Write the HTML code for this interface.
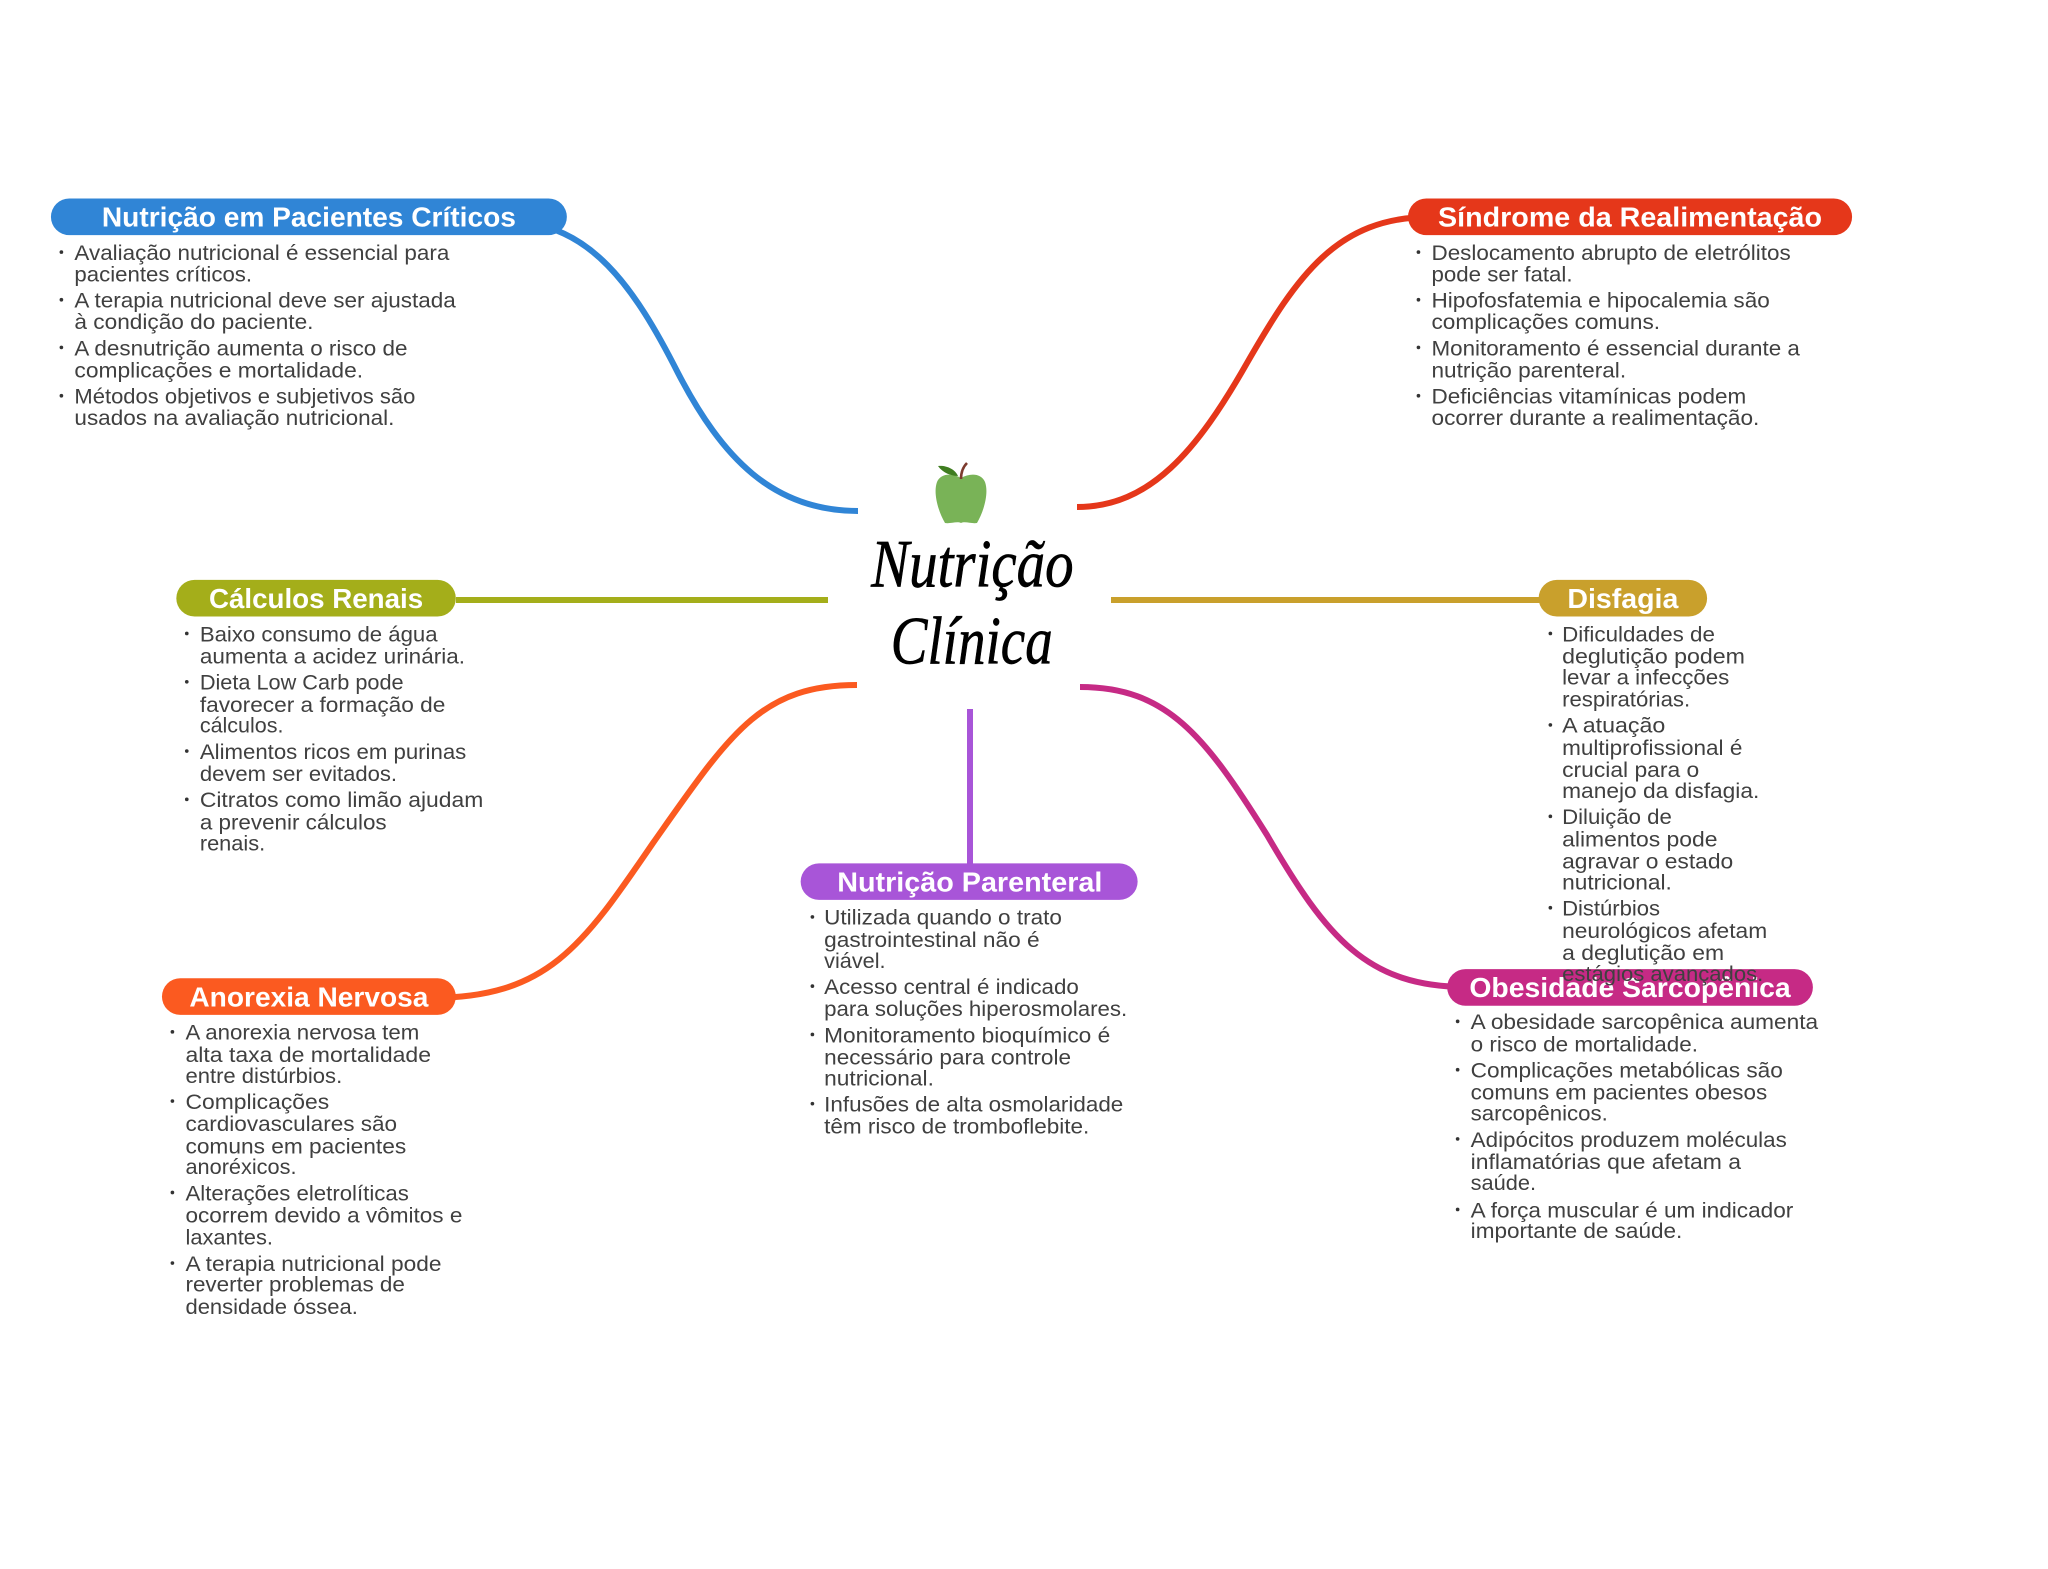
<!DOCTYPE html>
<html><head><meta charset="utf-8"><style>
html,body{margin:0;padding:0;background:#fff;width:2048px;height:1569px;overflow:hidden}
svg{display:block}
.t{font:16px "Liberation Sans",sans-serif;fill:#404040}
.h{font:bold 21px "Liberation Sans",sans-serif;fill:#fff}
.s{font:italic 52px "Liberation Serif",serif;fill:#000;stroke:#000;stroke-width:.5}
</style></head><body>
<svg width="2048" height="1569" viewBox="0 0 2048 1569" xmlns="http://www.w3.org/2000/svg">
<g fill="none" stroke-width="6">
<path d="M510,222C590,222 635,288 678,373C722,458 773,511 858,511" stroke="#3085d6"/>
<path d="M1430,217C1337,217 1297,276 1247,363C1197,451 1150,507 1077,507" stroke="#e5371a"/>
<path d="M857,685C760,685 730,734 653,843C582,947 547,998 430,998" stroke="#fb5a20"/>
<path d="M1080,687C1167,687 1205,736 1267,835C1327,938 1367,987 1467,987" stroke="#c62a85"/>
<path d="M456,600H828" stroke="#a4ae1a"/>
<path d="M1111,600H1540" stroke="#c9a02c"/>
<path d="M970,709V864" stroke="#a855d8"/>
</g>
<g transform="scale(1.30612,1.30612)">
<g>
<rect x="39" y="152" width="395" height="28" rx="14" fill="#3085d6"/>
<rect x="1078" y="152" width="340" height="28" rx="14" fill="#e5371a"/>
<rect x="135" y="444" width="214" height="28" rx="14" fill="#a4ae1a"/>
<rect x="1178" y="444" width="129" height="28" rx="14" fill="#c9a02c"/>
<rect x="613" y="661" width="258" height="28" rx="14" fill="#a855d8"/>
<rect x="124" y="749" width="225" height="28" rx="14" fill="#fb5a20"/>
<rect x="1108" y="742" width="280" height="28" rx="14" fill="#c62a85"/>
</g>
<g class="h">
<text class="h" x="78" y="173.500" textLength="317" lengthAdjust="spacingAndGlyphs">Nutrição em Pacientes Críticos</text>
<text class="h" x="1101" y="173.500" textLength="294" lengthAdjust="spacingAndGlyphs">Síndrome da Realimentação</text>
<text class="h" x="160" y="465.500" textLength="164" lengthAdjust="spacingAndGlyphs">Cálculos Renais</text>
<text class="h" x="1200" y="465.500" textLength="85" lengthAdjust="spacingAndGlyphs">Disfagia</text>
<text class="h" x="641" y="682.500" textLength="203" lengthAdjust="spacingAndGlyphs">Nutrição Parenteral</text>
<text class="h" x="145" y="770.500" textLength="183" lengthAdjust="spacingAndGlyphs">Anorexia Nervosa</text>
<text class="h" x="1125" y="763.500" textLength="246" lengthAdjust="spacingAndGlyphs">Obesidade Sarcopênica</text>
</g>
<text class="s" x="667" y="449" textLength="155" lengthAdjust="spacingAndGlyphs">Nutrição</text>
<text class="s" x="682" y="508" textLength="124" lengthAdjust="spacingAndGlyphs">Clínica</text>
<g class="t" transform="translate(0,1)">
<text class="t" x="57" y="198" textLength="287" lengthAdjust="spacingAndGlyphs">Avaliação nutricional é essencial para</text>
<text class="t" x="57" y="214.500" textLength="136" lengthAdjust="spacingAndGlyphs">pacientes críticos.</text>
<text class="t" x="57" y="234.500" textLength="292" lengthAdjust="spacingAndGlyphs">A terapia nutricional deve ser ajustada</text>
<text class="t" x="57" y="251" textLength="183" lengthAdjust="spacingAndGlyphs">à condição do paciente.</text>
<text class="t" x="57" y="271" textLength="255" lengthAdjust="spacingAndGlyphs">A desnutrição aumenta o risco de</text>
<text class="t" x="57" y="288" textLength="221" lengthAdjust="spacingAndGlyphs">complicações e mortalidade.</text>
<text class="t" x="57" y="308" textLength="261" lengthAdjust="spacingAndGlyphs">Métodos objetivos e subjetivos são</text>
<text class="t" x="57" y="324.500" textLength="245" lengthAdjust="spacingAndGlyphs">usados na avaliação nutricional.</text>

<text class="t" x="1096" y="198" textLength="275" lengthAdjust="spacingAndGlyphs">Deslocamento abrupto de eletrólitos</text>
<text class="t" x="1096" y="214.500" textLength="108" lengthAdjust="spacingAndGlyphs">pode ser fatal.</text>
<text class="t" x="1096" y="234.500" textLength="259" lengthAdjust="spacingAndGlyphs">Hipofosfatemia e hipocalemia são</text>
<text class="t" x="1096" y="251" textLength="175" lengthAdjust="spacingAndGlyphs">complicações comuns.</text>
<text class="t" x="1096" y="271" textLength="282" lengthAdjust="spacingAndGlyphs">Monitoramento é essencial durante a</text>
<text class="t" x="1096" y="288" textLength="149" lengthAdjust="spacingAndGlyphs">nutrição parenteral.</text>
<text class="t" x="1096" y="308" textLength="241" lengthAdjust="spacingAndGlyphs">Deficiências vitamínicas podem</text>
<text class="t" x="1096" y="324.500" textLength="251" lengthAdjust="spacingAndGlyphs">ocorrer durante a realimentação.</text>

<text class="t" x="153" y="490" textLength="182" lengthAdjust="spacingAndGlyphs">Baixo consumo de água</text>
<text class="t" x="153" y="507" textLength="203" lengthAdjust="spacingAndGlyphs">aumenta a acidez urinária.</text>
<text class="t" x="153" y="527" textLength="156" lengthAdjust="spacingAndGlyphs">Dieta Low Carb pode</text>
<text class="t" x="153" y="544" textLength="188" lengthAdjust="spacingAndGlyphs">favorecer a formação de</text>
<text class="t" x="153" y="560" textLength="64" lengthAdjust="spacingAndGlyphs">cálculos.</text>
<text class="t" x="153" y="580" textLength="204" lengthAdjust="spacingAndGlyphs">Alimentos ricos em purinas</text>
<text class="t" x="153" y="597" textLength="151" lengthAdjust="spacingAndGlyphs">devem ser evitados.</text>
<text class="t" x="153" y="617" textLength="217" lengthAdjust="spacingAndGlyphs">Citratos como limão ajudam</text>
<text class="t" x="153" y="634" textLength="143" lengthAdjust="spacingAndGlyphs">a prevenir cálculos</text>
<text class="t" x="153" y="650" textLength="50" lengthAdjust="spacingAndGlyphs">renais.</text>

<text class="t" x="631" y="707" textLength="182" lengthAdjust="spacingAndGlyphs">Utilizada quando o trato</text>
<text class="t" x="631" y="724" textLength="165" lengthAdjust="spacingAndGlyphs">gastrointestinal não é</text>
<text class="t" x="631" y="740" textLength="47" lengthAdjust="spacingAndGlyphs">viável.</text>
<text class="t" x="631" y="760" textLength="195" lengthAdjust="spacingAndGlyphs">Acesso central é indicado</text>
<text class="t" x="631" y="777" textLength="232" lengthAdjust="spacingAndGlyphs">para soluções hiperosmolares.</text>
<text class="t" x="631" y="797" textLength="219" lengthAdjust="spacingAndGlyphs">Monitoramento bioquímico é</text>
<text class="t" x="631" y="814" textLength="189" lengthAdjust="spacingAndGlyphs">necessário para controle</text>
<text class="t" x="631" y="830" textLength="84" lengthAdjust="spacingAndGlyphs">nutricional.</text>
<text class="t" x="631" y="850" textLength="229" lengthAdjust="spacingAndGlyphs">Infusões de alta osmolaridade</text>
<text class="t" x="631" y="867" textLength="203" lengthAdjust="spacingAndGlyphs">têm risco de tromboflebite.</text>

<text class="t" x="142" y="795" textLength="179" lengthAdjust="spacingAndGlyphs">A anorexia nervosa tem</text>
<text class="t" x="142" y="812" textLength="188" lengthAdjust="spacingAndGlyphs">alta taxa de mortalidade</text>
<text class="t" x="142" y="828" textLength="120" lengthAdjust="spacingAndGlyphs">entre distúrbios.</text>
<text class="t" x="142" y="848" textLength="110" lengthAdjust="spacingAndGlyphs">Complicações</text>
<text class="t" x="142" y="865" textLength="162" lengthAdjust="spacingAndGlyphs">cardiovasculares são</text>
<text class="t" x="142" y="882" textLength="169" lengthAdjust="spacingAndGlyphs">comuns em pacientes</text>
<text class="t" x="142" y="898" textLength="85" lengthAdjust="spacingAndGlyphs">anoréxicos.</text>
<text class="t" x="142" y="918" textLength="171" lengthAdjust="spacingAndGlyphs">Alterações eletrolíticas</text>
<text class="t" x="142" y="935" textLength="212" lengthAdjust="spacingAndGlyphs">ocorrem devido a vômitos e</text>
<text class="t" x="142" y="952" textLength="67" lengthAdjust="spacingAndGlyphs">laxantes.</text>
<text class="t" x="142" y="972" textLength="196" lengthAdjust="spacingAndGlyphs">A terapia nutricional pode</text>
<text class="t" x="142" y="988" textLength="168" lengthAdjust="spacingAndGlyphs">reverter problemas de</text>
<text class="t" x="142" y="1005" textLength="132" lengthAdjust="spacingAndGlyphs">densidade óssea.</text>

<text class="t" x="1126" y="787" textLength="266" lengthAdjust="spacingAndGlyphs">A obesidade sarcopênica aumenta</text>
<text class="t" x="1126" y="804" textLength="174" lengthAdjust="spacingAndGlyphs">o risco de mortalidade.</text>
<text class="t" x="1126" y="824" textLength="239" lengthAdjust="spacingAndGlyphs">Complicações metabólicas são</text>
<text class="t" x="1126" y="841" textLength="227" lengthAdjust="spacingAndGlyphs">comuns em pacientes obesos</text>
<text class="t" x="1126" y="857" textLength="105" lengthAdjust="spacingAndGlyphs">sarcopênicos.</text>
<text class="t" x="1126" y="877" textLength="242" lengthAdjust="spacingAndGlyphs">Adipócitos produzem moléculas</text>
<text class="t" x="1126" y="894" textLength="207" lengthAdjust="spacingAndGlyphs">inflamatórias que afetam a</text>
<text class="t" x="1126" y="910" textLength="50" lengthAdjust="spacingAndGlyphs">saúde.</text>
<text class="t" x="1126" y="931" textLength="247" lengthAdjust="spacingAndGlyphs">A força muscular é um indicador</text>
<text class="t" x="1126" y="947" textLength="162" lengthAdjust="spacingAndGlyphs">importante de saúde.</text>

<text class="t" x="1196" y="490" textLength="117" lengthAdjust="spacingAndGlyphs">Dificuldades de</text>
<text class="t" x="1196" y="507" textLength="140" lengthAdjust="spacingAndGlyphs">deglutição podem</text>
<text class="t" x="1196" y="523" textLength="128" lengthAdjust="spacingAndGlyphs">levar a infecções</text>
<text class="t" x="1196" y="540" textLength="98" lengthAdjust="spacingAndGlyphs">respiratórias.</text>
<text class="t" x="1196" y="560" textLength="79" lengthAdjust="spacingAndGlyphs">A atuação</text>
<text class="t" x="1196" y="577" textLength="138" lengthAdjust="spacingAndGlyphs">multiprofissional é</text>
<text class="t" x="1196" y="594" textLength="105" lengthAdjust="spacingAndGlyphs">crucial para o</text>
<text class="t" x="1196" y="610" textLength="151" lengthAdjust="spacingAndGlyphs">manejo da disfagia.</text>
<text class="t" x="1196" y="630" textLength="84" lengthAdjust="spacingAndGlyphs">Diluição de</text>
<text class="t" x="1196" y="647" textLength="119" lengthAdjust="spacingAndGlyphs">alimentos pode</text>
<text class="t" x="1196" y="664" textLength="131" lengthAdjust="spacingAndGlyphs">agravar o estado</text>
<text class="t" x="1196" y="680" textLength="84" lengthAdjust="spacingAndGlyphs">nutricional.</text>
<text class="t" x="1196" y="700" textLength="75" lengthAdjust="spacingAndGlyphs">Distúrbios</text>
<text class="t" x="1196" y="717" textLength="157" lengthAdjust="spacingAndGlyphs">neurológicos afetam</text>
<text class="t" x="1196" y="734" textLength="124" lengthAdjust="spacingAndGlyphs">a deglutição em</text>
<text class="t" x="1196" y="750" textLength="154" lengthAdjust="spacingAndGlyphs">estágios avançados.</text>
</g>
<g fill="#333">
<circle cx="47" cy="193" r="1.4"/><circle cx="47" cy="229.500" r="1.4"/><circle cx="47" cy="266" r="1.4"/><circle cx="47" cy="303" r="1.4"/>
<circle cx="1086" cy="193" r="1.4"/><circle cx="1086" cy="229.500" r="1.4"/><circle cx="1086" cy="266" r="1.4"/><circle cx="1086" cy="303" r="1.4"/>
<circle cx="143" cy="485" r="1.4"/><circle cx="143" cy="522" r="1.4"/><circle cx="143" cy="575" r="1.4"/><circle cx="143" cy="612" r="1.4"/>
<circle cx="1187" cy="485" r="1.4"/><circle cx="1187" cy="555" r="1.4"/><circle cx="1187" cy="625" r="1.4"/><circle cx="1187" cy="695" r="1.4"/>
<circle cx="622" cy="702" r="1.4"/><circle cx="622" cy="755" r="1.4"/><circle cx="622" cy="792" r="1.4"/><circle cx="622" cy="845" r="1.4"/>
<circle cx="132" cy="790" r="1.4"/><circle cx="132" cy="843" r="1.4"/><circle cx="132" cy="913" r="1.4"/><circle cx="132" cy="967" r="1.4"/>
<circle cx="1116" cy="782" r="1.4"/><circle cx="1116" cy="819" r="1.4"/><circle cx="1116" cy="872" r="1.4"/><circle cx="1116" cy="926" r="1.4"/>
</g>
</g>
<!-- apple -->
<path d="M961,478C952,473 941,473 937,482C933,493 938,511 945,523C950,524 957,521 961,523C965,521 972,524 977,523C984,511 989,493 985,482C981,473 970,473 961,478Z" fill="#79b357"/>
<path d="M961,479C961,472 963,467 967,463" stroke="#7d3b2e" stroke-width="2.600" fill="none"/>
<path d="M938,466C946,465 955,469 958,476C951,476 943,473 938,466Z" fill="#3f7d20"/>
</svg>
</body></html>
